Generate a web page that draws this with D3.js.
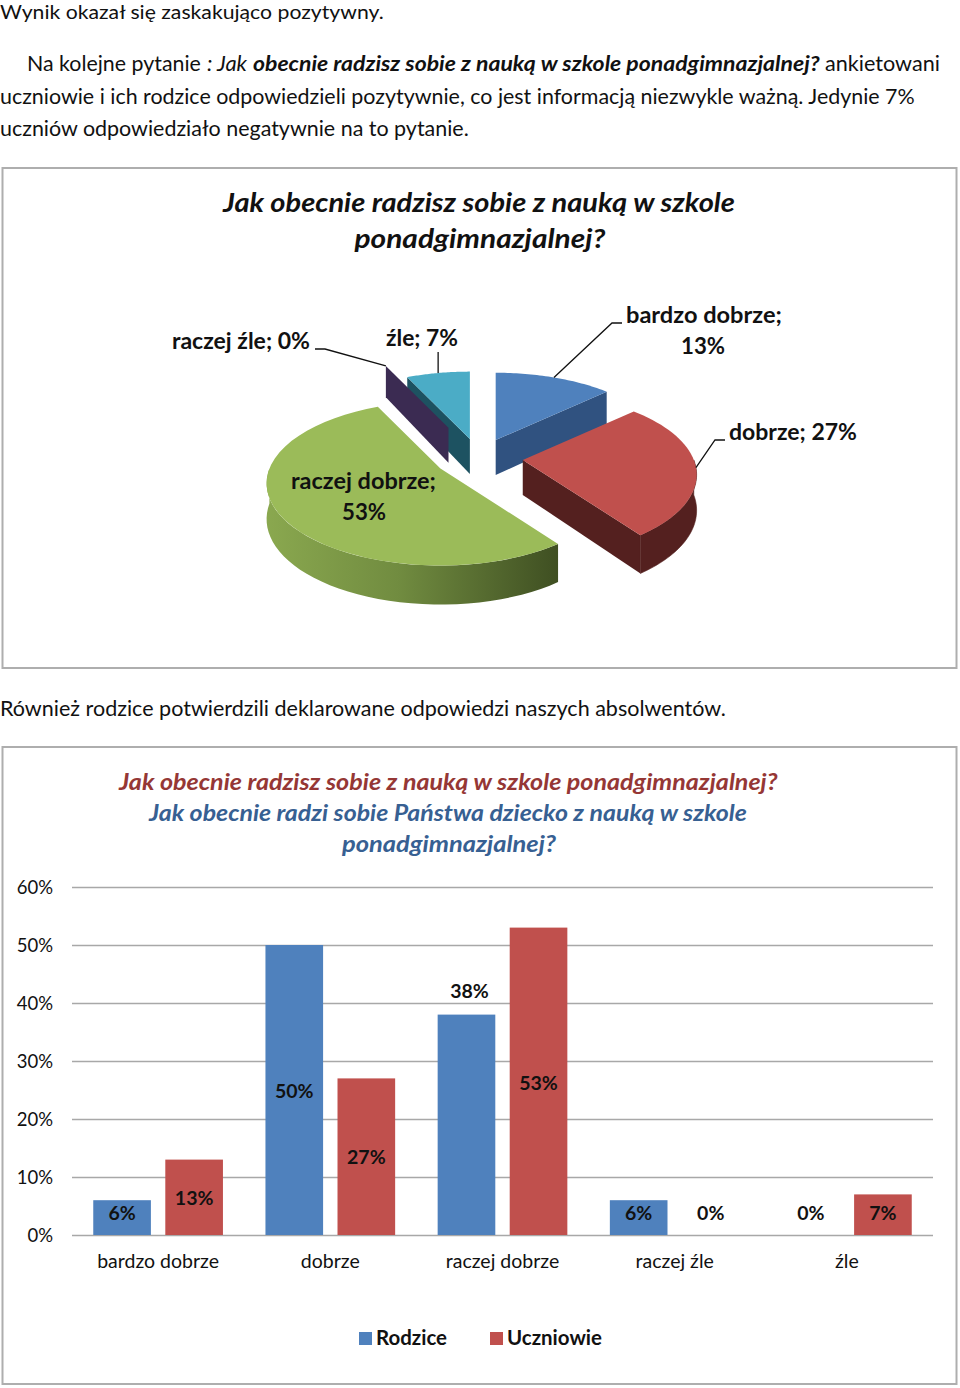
<!DOCTYPE html>
<html lang="pl"><head><meta charset="utf-8">
<script src="https://cdn.jsdelivr.net/npm/d3@7/dist/d3.min.js"></script>
<style>html,body{margin:0;padding:0;background:#fff}svg{display:block}text{font-family:Lato,sans-serif;fill:#111}</style>
</head><body><svg id="c" width="960" height="1388"></svg>
<script>
const categories = ["bardzo dobrze","dobrze","raczej dobrze","raczej źle","źle"];
const studentValues = [13,27,53,0,7];
const parentValues = [6,50,38,6,0];
const seriesNames = ["Rodzice","Uczniowie"];
const yTicks = [0,10,20,30,40,50,60];
const sliceTop = ["#4f81bd","#c0504d","#9bbb59","#3b2b52","#4bacc6"];
const sliceSide = ["#305280","#54201f","#4d6029","#3b2b52","#1d5261"];
const seriesColors = ["#4f81bd","#c0504d"];
const explosion = [.256,.256,.256,.45,.256];

const svg = d3.select("#c");

function T(x,y,s,o={}){
  const n = svg.append("text").attr("y",0).attr("x",0).text(s)
    .style("font-size",(o.size||21)+"px").style("font-weight",o.bold?700:400)
    .style("font-style",o.italic?"italic":"normal").style("fill",o.fill||"#111");
  const len = n.node().getComputedTextLength();
  const w = o.w||len, k = w/len;
  const x0 = o.anchor==="middle" ? x-w/2 : o.anchor==="end" ? x-w : x;
  n.attr("transform",`translate(${x0},${y}) scale(${k},1)`);
  return n;
}

// page text
T(0,19,"Wynik okazał się zaskakująco pozytywny.",{w:384,size:19});
T(27,71,"Na kolejne pytanie",{w:174});
T(207,71,": Jak",{w:40,italic:true});
T(253,71,"obecnie radzisz sobie z nauką w szkole ponadgimnazjalnej?",{w:567,italic:true,bold:true});
T(825,71,"ankietowani",{w:115});
T(0,104,"uczniowie i ich rodzice odpowiedzieli pozytywnie, co jest informacją niezwykle ważną. Jedynie 7%",{w:915});
T(0,136,"uczniów odpowiedziało negatywnie na to pytanie.",{w:469});
T(0,716,"Również rodzice potwierdzili deklarowane odpowiedzi naszych absolwentów.",{w:726});

// frames
[[168,668],[747,1384]].forEach(([a,b])=>svg.append("rect").attr("x",2.5).attr("y",a).attr("width",954).attr("height",b-a)
  .attr("fill","none").attr("stroke","#aeaeae").attr("stroke-width",2));

// ---- exploded 3D pie
T(479,212,"Jak obecnie radzisz sobie z nauką w szkole",{size:27,bold:true,italic:true,anchor:"middle",w:512});
T(480,248,"ponadgimnazjalnej?",{size:27,bold:true,italic:true,anchor:"middle",w:251});

const pieC = {x:479,y:458}, RX=171, RY=79.5, PERSP=.18, DEPTH=35;
const arcs = d3.pie().sort(null).value(d=>d)(studentValues);
const proj = (a,r=1)=>{ const u=Math.sin(a)*r, v=-Math.cos(a)*r, w=1/(1-PERSP*v); return [RX*u*w,RY*v*w,v]; };
const apexOf = (d,i)=>{ const [x,y]=proj((d.startAngle+d.endAngle)/2,explosion[i]); return [pieC.x+x,pieC.y+y]; };
const rim = (A,a)=>{ const [x,y,v]=proj(a); return [A[0]+x,A[1]+y,v]; };
const drop = (p,v)=>[p[0],p[1]+DEPTH+4*(v||0)];
const line = d3.line();
const sampled = (a,b)=>d3.range(0,41).map(i=>a+(b-a)*i/40);

const defs = svg.append("defs");
const g = defs.append("linearGradient").attr("id","greenRim").attr("x1",0).attr("x2",1).attr("y1",0).attr("y2",0);
[[0,"#8aa84f"],[.45,"#718c40"],[1,"#3f4f22"]].forEach(([o,c])=>g.append("stop").attr("offset",o).attr("stop-color",c));

const pieG = svg.append("g");
const HALF=Math.PI, Q=Math.PI/2;
[4,3,2,0,1].forEach(i=>{
  const d=arcs[i], A=apexOf(d,i), aDrop=drop(A,0);
  const face=a=>{ const r=rim(A,a); pieG.append("path").attr("d",line([A,[r[0],r[1]],drop(r,r[2]),aDrop])+"Z").attr("fill",sliceSide[i]); };
  if(d.startAngle>HALF) face(d.startAngle);
  if(d.endAngle<HALF) face(d.endAngle);
  const a0=Math.max(d.startAngle,Q), a1=Math.min(d.endAngle,3*Q);
  if(a1>a0 && d.value>0){
    const top=sampled(a0,a1).map(a=>rim(A,a));
    const pts=top.map(p=>[p[0],p[1]]).concat(top.slice().reverse().map(p=>drop(p,p[2])));
    pieG.append("path").attr("d",line(pts)+"Z").attr("fill",i===2?"url(#greenRim)":sliceSide[i])
      .attr("stroke",i===2?"none":sliceSide[i]).attr("stroke-width",.6);
  }
  if(d.value>0){
    const pts=[A].concat(sampled(d.startAngle,d.endAngle).map(a=>rim(A,a).slice(0,2)));
    pieG.append("path").attr("d",line(pts)+"Z").attr("fill",sliceTop[i]);
  }
});

// leaders: from each slice's rim at its mid-angle to a knot by its label
const leaderKnots = [[[612,323],[622,323]],[[715,440],[725,440]],null,[[325,349],[315,349]],[[null,352]]];
leaderKnots.forEach((k,i)=>{
  if(!k) return;
  const d=arcs[i], A=apexOf(d,i), r=rim(A,(d.startAngle+d.endAngle)/2);
  const knots=k.map(p=>[p[0]===null?r[0]:p[0],p[1]]);
  svg.append("path").attr("d",line([[r[0],r[1]],...knots])).attr("fill","none").attr("stroke","#111").attr("stroke-width",1.3);
});
const lab={size:23,bold:true};
T(172,349,"raczej źle; 0%",{...lab,w:138});
T(386,346,"źle; 7%",{...lab,w:72});
T(626,323,"bardzo dobrze;",{...lab,w:156});
T(703,354,"13%",{...lab,anchor:"middle",w:44});
T(729,440,"dobrze; 27%",{...lab,w:128});
T(291,489,"raczej dobrze;",{...lab,w:145});
T(364,520,"53%",{...lab,anchor:"middle",w:44});

// ---- bars
const tt={size:23,bold:true,italic:true};
T(119,790,"Jak obecnie radzisz sobie z nauką w szkole ponadgimnazjalnej?",{...tt,fill:"#953735",w:659});
T(149,821,"Jak obecnie radzi sobie Państwa dziecko z nauką w szkole",{...tt,fill:"#376092",w:598});
T(342,852,"ponadgimnazjalnej?",{...tt,fill:"#376092",w:214});

const y=d3.scaleLinear().domain([0,60]).range([1235,887]);
const x0=d3.scaleBand().domain(categories).range([72,933]);
const x1=d3.scaleBand().domain(seriesNames).range([0,x0.bandwidth()]).paddingInner(.2).paddingOuter(.295);

const yAxis=svg.append("g").attr("transform","translate(72,0)")
  .call(d3.axisLeft(y).tickValues(yTicks).tickFormat(d=>d+"%").tickSize(-861).tickPadding(19));
yAxis.select(".domain").remove();
yAxis.selectAll("line").attr("stroke","#a8a8a8").attr("stroke-width",1.5);
yAxis.selectAll("text").style("font-size","18.5px").attr("dy","0.35em");

const xAxis=svg.append("g").attr("transform","translate(0,1235)")
  .call(d3.axisBottom(x0).tickSize(0).tickPadding(19));
xAxis.select(".domain").remove();
xAxis.selectAll("text").style("font-size","19.5px").attr("dy","0.71em");

const series=[parentValues,studentValues];
// label shifts away from the bar middle (px), as placed in the original
const labelShiftY=[[-5,1,-134,-5,0],[1,0,2,0,-2]];
const labelShiftX=[[0,0,3,0,0],[0,0,0,0,0]];
series.forEach((vals,s)=>{
  svg.append("g").selectAll("rect").data(vals).join("rect")
    .attr("x",(d,i)=>x0(categories[i])+x1(seriesNames[s]))
    .attr("y",d=>y(d)).attr("width",x1.bandwidth()).attr("height",d=>y(0)-y(d))
    .attr("fill",seriesColors[s]);
});
series.forEach((vals,s)=>vals.forEach((v,i)=>{
  const cx=x0(categories[i])+x1(seriesNames[s])+x1.bandwidth()/2+labelShiftX[s][i];
  const cy=v===0?y(3.8):y(v/2)+labelShiftY[s][i];
  T(cx,cy+7,v+"%",{size:19.5,bold:true,anchor:"middle"});
}));

// legend
const legendX=[359,490], legendTextX=[376,507], legendW=[71,95];
seriesNames.forEach((n,i)=>{
  svg.append("rect").attr("x",legendX[i]).attr("y",1332).attr("width",13).attr("height",13).attr("fill",seriesColors[i]);
  T(legendTextX[i],1345,n,{size:20.5,bold:true,w:legendW[i]});
});
</script></body></html>
